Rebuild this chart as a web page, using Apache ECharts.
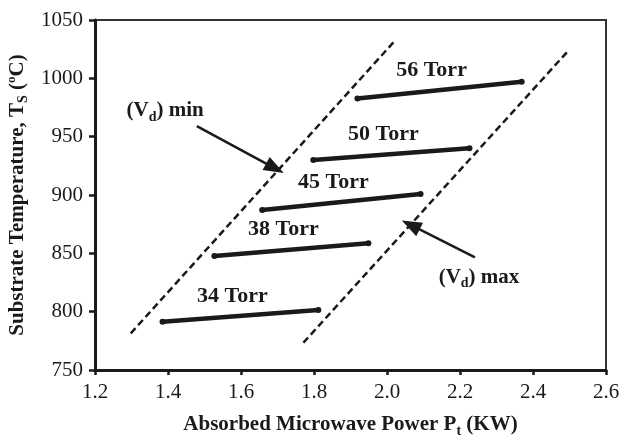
<!DOCTYPE html>
<html>
<head>
<meta charset="utf-8">
<script src="https://cdn.jsdelivr.net/npm/echarts@6/dist/echarts.min.js"></script>
<style>
  html, body { margin: 0; padding: 0; background: #fff; }
  #chart { width: 621px; height: 435px; }
</style>
</head>
<body>
<div id="chart"></div>
<script>
// pressure series: start / end of each line (power in KW, temperature in C)
const torrNames = ["34 Torr", "38 Torr", "45 Torr", "50 Torr", "56 Torr"];
const powerStart = [1.385, 1.527, 1.658, 1.798, 1.919];
const powerEnd = [1.812, 1.949, 2.092, 2.226, 2.369];
const tempStart = [791.4, 847.7, 887.1, 930.0, 982.8];
const tempEnd = [801.4, 858.6, 900.8, 940.0, 997.1];

// (Vd) min / max boundary lines
const vdMinPower = [1.298, 2.025];
const vdMinTemp = [781.4, 1033.4];
const vdMaxPower = [1.771, 2.5];
const vdMaxTemp = [773.4, 1024.8];

// annotation arrows [from, to] and label anchors
const arrowMin = [[1.479, 959.1], [1.693, 922.9]];
const arrowMax = [[2.241, 846.6], [2.065, 874.3]];
const labelMin = [1.392, 972];
const labelMax = [2.252, 829];

const xTicks = [1.2, 1.4, 1.6, 1.8, 2.0, 2.2, 2.4, 2.6];
const yTicks = [750, 800, 850, 900, 950, 1000, 1050];

const serif = "Liberation Serif";
const ink = "#1a1a1a";

var rich = {
  b: { fontFamily: serif, fontWeight: "bold", fontSize: 21, color: ink, lineHeight: 24 },
  sub: { fontFamily: serif, fontWeight: "bold", fontSize: 14, color: ink, lineHeight: 12, padding: [12, 0, 0, 0] },
  sup: { fontFamily: serif, fontWeight: "bold", fontSize: 13, color: ink, lineHeight: 12, padding: [0, 0, 10, 0] }
};

var series = [];
for (let i = 0; i < torrNames.length; i++) {
  series.push({
    name: torrNames[i],
    type: "line",
    data: [[powerStart[i], tempStart[i]], [powerEnd[i], tempEnd[i]]],
    symbol: "circle",
    symbolSize: 6,
    itemStyle: { color: ink },
    lineStyle: { color: ink, width: 4.5 },
    z: 3,
    markPoint: {
      symbolSize: 0,
      silent: true,
      data: [{
        coord: [(powerStart[i] + powerEnd[i]) / 2, (tempStart[i] + tempEnd[i]) / 2]
      }],
      label: {
        show: true,
        position: "inside",
        offset: [-8, -20],
        formatter: torrNames[i],
        fontFamily: serif,
        fontWeight: "bold",
        fontSize: 22,
        color: ink
      }
    }
  });
}

function boundary(name, px, py, arrow, labelPos, text) {
  return {
    name: name,
    type: "line",
    data: [[px[0], py[0]], [px[1], py[1]]],
    symbol: "none",
    lineStyle: { color: ink, width: 2.5, type: [7, 4] },
    z: 2,
    markLine: {
      silent: true,
      symbol: ["none", "triangle"],
      symbolSize: [15, 20],
      label: { show: false },
      lineStyle: { color: ink, width: 2.5, type: "solid" },
      data: [[{ coord: arrow[0] }, { coord: arrow[1] }]]
    },
    markPoint: {
      symbolSize: 0,
      silent: true,
      data: [{ coord: labelPos }],
      label: {
        show: true,
        position: "inside",
        formatter: "{b|(V}{sub|d}{b|) " + text + "}",
        rich: rich
      }
    }
  };
}

series.push(boundary("vdMin", vdMinPower, vdMinTemp, arrowMin, labelMin, "min"));
series.push(boundary("vdMax", vdMaxPower, vdMaxTemp, arrowMax, labelMax, "max"));

var myChart = echarts.init(document.getElementById("chart"));
var option = {
  animation: false,
  backgroundColor: "#fff",
  grid: {
    left: 95,
    right: 15,
    top: 20,
    bottom: 65,
    outerBoundsMode: "none",
    show: true,
    borderColor: "#333",
    borderWidth: 2
  },
  xAxis: {
    type: "value",
    min: xTicks[0],
    max: xTicks[xTicks.length - 1],
    interval: 0.2,
    name: "{b|Absorbed Microwave Power P}{sub|t}{b| (KW)}",
    nameLocation: "middle",
    nameGap: 43,
    nameTextStyle: { rich: rich },
    axisLine: { lineStyle: { color: ink, width: 3 } },
    axisTick: { show: true, length: 5, lineStyle: { color: ink, width: 2.5 } },
    axisLabel: {
      margin: 12,
      color: ink,
      fontFamily: serif,
      fontSize: 21,
      formatter: function (v) { return v.toFixed(1); }
    },
    splitLine: { show: false }
  },
  yAxis: {
    type: "value",
    min: yTicks[0],
    max: yTicks[yTicks.length - 1],
    interval: 50,
    name: "{b|Substrate Temperature, T}{sub|S}{b| (}{sup|o}{b|C)}",
    nameLocation: "middle",
    nameGap: 63,
    nameTextStyle: { rich: rich },
    axisLine: { lineStyle: { color: ink, width: 3 } },
    axisTick: { show: true, length: 6, lineStyle: { color: ink, width: 2.5 } },
    axisLabel: {
      margin: 12,
      color: ink,
      fontFamily: serif,
      fontSize: 21,
      formatter: function (v) { return String(v); }
    },
    splitLine: { show: false }
  },
  series: series
};
myChart.setOption(option);
</script>
</body>
</html>
